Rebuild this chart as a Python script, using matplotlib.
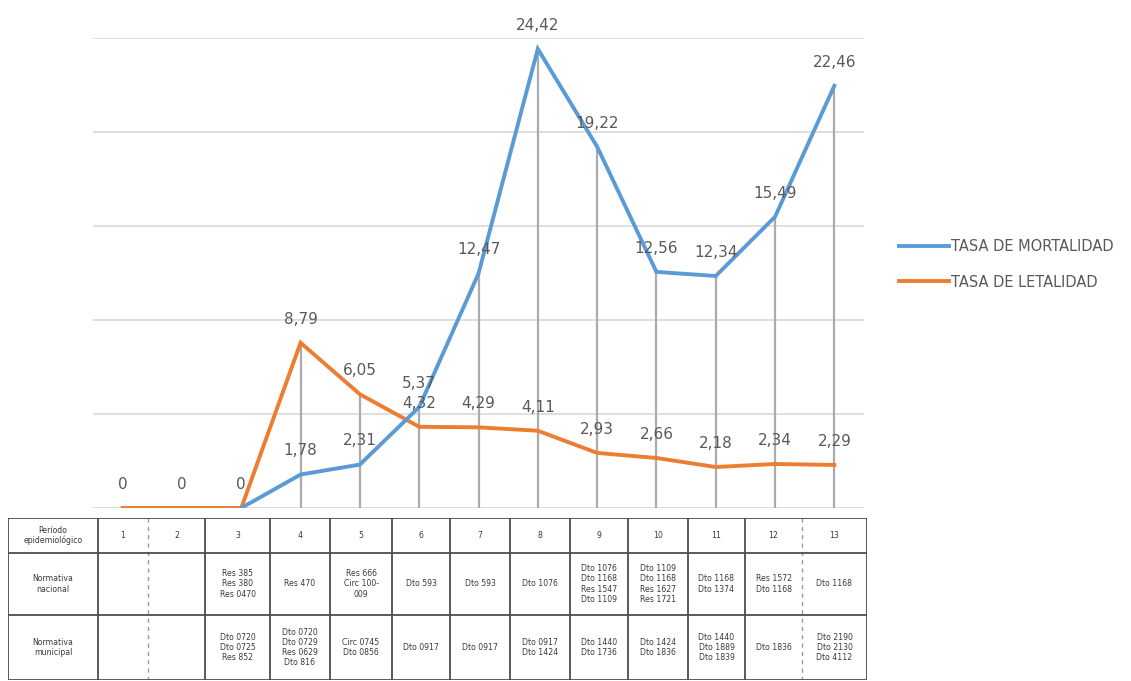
import numpy as np
import matplotlib
matplotlib.use("Agg")
import matplotlib.pyplot as plt

# ---- data ----
periods = list(range(1, 14))
mortalidad = [np.nan, np.nan, 0, 1.78, 2.31, 5.37, 12.47, 24.42, 19.22, 12.56, 12.34, 15.49, 22.46]
letalidad = [0, 0, 0, 8.79, 6.05, 4.32, 4.29, 4.11, 2.93, 2.66, 2.18, 2.34, 2.29]
series_names = ["TASA DE MORTALIDAD", "TASA DE LETALIDAD"]

row_labels = ["Período\nepidemiológico", "Normativa\nnacional", "Normativa\nmunicipal"]
nacional = ["", "", "Res 385\nRes 380\nRes 0470", "Res 470", "Res 666\nCirc 100-\n009", "Dto 593",
            "Dto 593", "Dto 1076", "Dto 1076\nDto 1168\nRes 1547\nDto 1109",
            "Dto 1109\nDto 1168\nRes 1627\nRes 1721", "Dto 1168\nDto 1374",
            "Res 1572\nDto 1168", "Dto 1168"]
municipal = ["", "", "Dto 0720\nDto 0725\nRes 852", "Dto 0720\nDto 0729\nRes 0629\nDto 816",
             "Circ 0745\nDto 0856", "Dto 0917", "Dto 0917", "Dto 0917\nDto 1424",
             "Dto 1440\nDto 1736", "Dto 1424\nDto 1836", "Dto 1440\nDto 1889\nDto 1839",
             "Dto 1836", "Dto 2190\nDto 2130\nDto 4112"]

BLUE = "#5B9BD5"
ORANGE = "#ED7D31"
LABEL = "#595959"

W, H = 1131, 681
fig = plt.figure(figsize=(W / 100, H / 100), dpi=100)
plt.rcParams['font.family'] = ['DejaVu Sans']

def px_axes(x0, y0, x1, y1):
    return fig.add_axes([x0 / W, 1 - y1 / H, (x1 - x0) / W, (y1 - y0) / H])

# ---- chart ----
ax = px_axes(93, 38, 864, 508)
ax.set_xlim(0.5, 13.5)
ax.set_ylim(0, 25)
for v in [5, 10, 15, 20, 25]:
    ax.axhline(v, color="#D9D9D9", lw=1.2, zorder=0)
ax.axhline(0, color="#D9D9D9", lw=1.2, zorder=0)
tops = np.nanmax(np.vstack([mortalidad, letalidad]), axis=0)
ax.vlines(periods, 0, tops, color="#ABABAB", lw=1.6, zorder=1)
ax.plot(periods, mortalidad, color=BLUE, lw=2.8, zorder=3, label=series_names[0],
        solid_joinstyle="miter")
ax.plot(periods, letalidad, color=ORANGE, lw=2.8, zorder=2, label=series_names[1],
        solid_joinstyle="miter")

def fmt(v):
    return ("%.2f" % v).replace(".", ",") if v != 0 else "0"

for x, v in zip(periods, mortalidad):
    if np.isnan(v) or v == 0:
        continue
    ax.annotate(fmt(v), (x, v), xytext=(0, 17), textcoords="offset points",
                ha="center", va="center", fontsize=11, color=LABEL, zorder=4,
                annotation_clip=False)
for x, v in zip(periods, letalidad):
    ax.annotate(fmt(v), (x, v), xytext=(0, 17), textcoords="offset points",
                ha="center", va="center", fontsize=11, color=LABEL, zorder=4,
                annotation_clip=False)

for s in ax.spines.values():
    s.set_visible(False)
ax.set_xticks([])
ax.set_yticks([])

leg = fig.legend(loc="upper left", bbox_to_anchor=(886 / W, 1 - 226 / H), frameon=False,
                 fontsize=10.5, handlelength=3.4, handletextpad=0.15, labelspacing=1.4,
                 labelcolor=LABEL)

# ---- table ----
tax = px_axes(8, 518, 867, 680)
tax.set_xlim(8, 867)
tax.set_ylim(680, 518)
tax.axis("off")
cols = [8, 98, 148, 205, 270, 330, 392, 450, 510, 570, 628, 688, 745, 802, 867]
rows = [518, 553, 615, 680]
lc = "#4D4D4D"
for i, c in enumerate(cols):
    if i in (2, 13):
        tax.plot([c, c], [rows[0], rows[-1]], color="#9A9A9A", lw=1.0, ls=(0, (3, 3)))
    else:
        tax.plot([c, c], [rows[0], rows[-1]], color=lc, lw=1.3)
for r in rows:
    tax.plot([cols[0], cols[-1]], [r, r], color=lc, lw=1.3)

fs = 5.6
tc = "#3A3A3A"
for j, lab in enumerate(row_labels):
    tax.text((cols[0] + cols[1]) / 2, (rows[j] + rows[j + 1]) / 2, lab, ha="center",
             va="center", fontsize=fs, color=tc, linespacing=1.15)
for k in range(13):
    cx = (cols[k + 1] + cols[k + 2]) / 2
    tax.text(cx, (rows[0] + rows[1]) / 2, str(periods[k]), ha="center", va="center",
             fontsize=fs, color=tc)
    tax.text(cx, (rows[1] + rows[2]) / 2, nacional[k], ha="center", va="center",
             fontsize=fs, color=tc, linespacing=1.15)
    tax.text(cx, (rows[2] + rows[3]) / 2, municipal[k], ha="center", va="center",
             fontsize=fs, color=tc, linespacing=1.15)

fig.savefig("out.png", dpi=100)
